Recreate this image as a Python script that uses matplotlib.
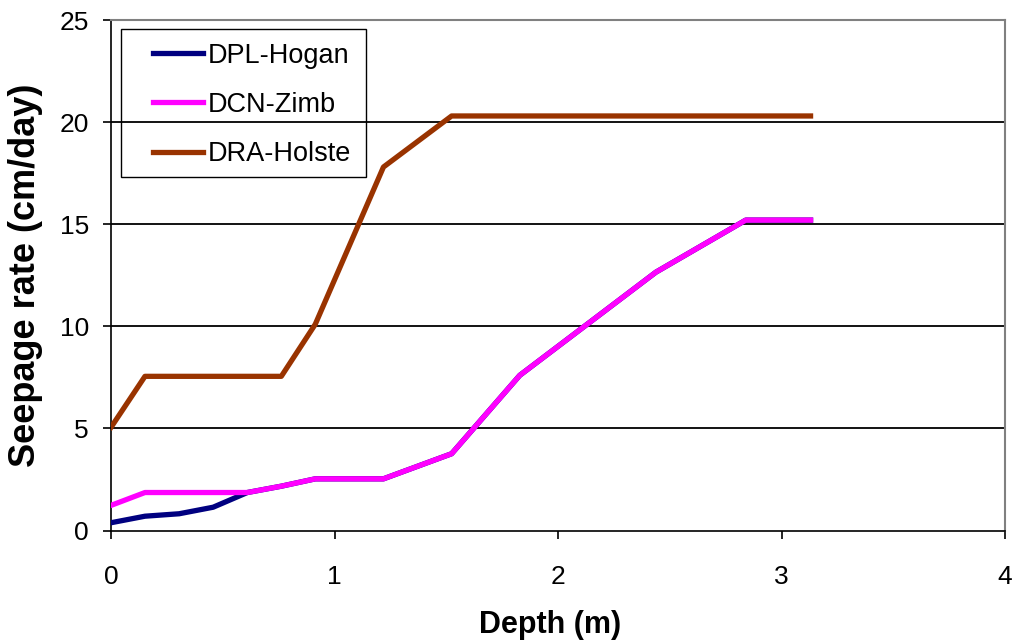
import matplotlib
matplotlib.use("Agg")
import matplotlib.pyplot as plt
import numpy as np
from matplotlib.legend_handler import HandlerLine2D
from matplotlib.patches import Rectangle

# depth (m) and seepage rate (cm/day)
depth_hogan = [0, 0.152, 0.305, 0.457, 0.610, 0.762, 0.914, 1.219, 1.524, 1.829, 2.438, 2.84, 3.13]
rate_hogan = [0.38, 0.70, 0.82, 1.14, 1.86, 2.17, 2.53, 2.53, 3.76, 7.6, 12.65, 15.2, 15.2]

depth_zimb = [0, 0.152, 0.610, 0.762, 0.914, 1.219, 1.524, 1.829, 2.438, 2.84, 3.13]
rate_zimb = [1.23, 1.86, 1.86, 2.17, 2.53, 2.53, 3.76, 7.6, 12.65, 15.2, 15.2]

depth_holste = [0, 0.152, 0.762, 0.914, 1.219, 1.524, 3.13]
rate_holste = [5.05, 7.55, 7.55, 10.1, 17.8, 20.3, 20.3]

labels = ["DPL-Hogan", "DCN-Zimb", "DRA-Holste"]
colors = ["#000080", "#FF00FF", "#993300"]

plt.rcParams['font.family'] = ["Liberation Sans", "DejaVu Sans"]


class PaddedLine(HandlerLine2D):
    # legend line with blank space to its left, like the excel legend
    def get_xdata(self, legend, xdescent, ydescent, width, height, fontsize):
        x = np.array([-xdescent + 13.0, -xdescent + width - 1.5])
        return x, x


fig = plt.figure(figsize=(10.16, 6.44), dpi=100)
ax = fig.add_axes([111/1016, 1 - 530.5/644, (1005 - 111)/1016, (530.5 - 20)/644])

for y in [5, 10, 15, 20]:
    ax.axhline(y, color="black", lw=1.3, zorder=1)

ax.plot(depth_hogan, rate_hogan, color=colors[0], lw=3.8, label=labels[0], zorder=3)
ax.plot(depth_zimb, rate_zimb, color=colors[1], lw=3.8, label=labels[1], zorder=4)
ax.plot(depth_holste, rate_holste, color=colors[2], lw=3.8, label=labels[2], zorder=5)

ax.set_xlim(0, 4)
ax.set_ylim(0, 25)
ax.set_xticks([0, 1, 2, 3, 4])
ax.set_yticks([0, 5, 10, 15, 20, 25])

for side in ["top", "right"]:
    ax.spines[side].set_color("#808080")
    ax.spines[side].set_linewidth(1.5)
for side in ["left", "bottom"]:
    ax.spines[side].set_color("black")
    ax.spines[side].set_linewidth(1.2)

ax.tick_params(axis="both", direction="out", length=6, width=1.2, labelsize=19)
ax.tick_params(axis="y", pad=10)
ax.tick_params(axis="x", pad=19)

ax.set_xlabel("Depth (m)", fontsize=22, fontweight="bold")
ax.xaxis.set_label_coords((550.5 - 111) / 894, (530.5 - 610) / 510.5)
ax.set_ylabel("Seepage rate (cm/day)", fontsize=26, fontweight="bold", labelpad=11.5)

leg = ax.legend(loc="upper left", bbox_to_anchor=(121/1016, 1 - 29/644),
                bbox_transform=fig.transFigure, fontsize=19.5, frameon=False,
                handlelength=2.6, handletextpad=0.12, labelspacing=0.86,
                borderpad=0.5, borderaxespad=0, numpoints=2,
                handler_map={matplotlib.lines.Line2D: PaddedLine(numpoints=2)})

# legend frame drawn separately so the right side can be wider than the left
fig.patches.append(Rectangle((121/1016, 1 - 177/644), 245/1016, 148/644,
                             transform=fig.transFigure, fill=False,
                             edgecolor="black", linewidth=1.0, zorder=10))

fig.savefig("out.png", dpi=100)
